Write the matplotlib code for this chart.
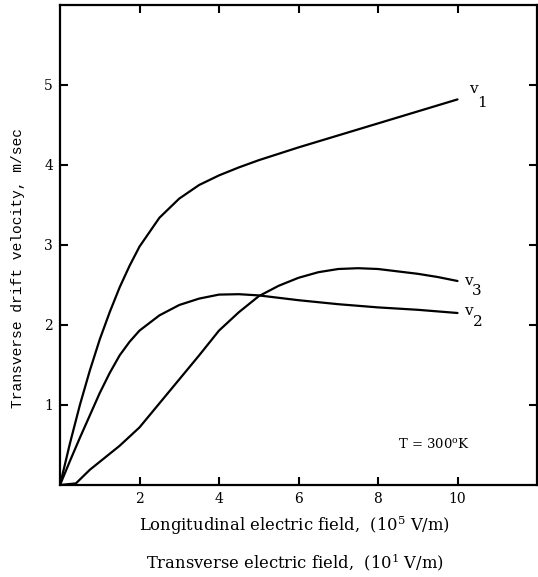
import matplotlib.pyplot as plt

# curve points (E in 10^5 V/m, v in m/sec)
v1_x = [0, 0.25, 0.5, 0.75, 1.0, 1.25, 1.5, 1.75, 2.0, 2.5, 3.0, 3.5,
        4.0, 4.5, 5.0, 6.0, 7.0, 8.0, 9.0, 10.0]
v1_y = [0, 0.52, 1.00, 1.43, 1.82, 2.16, 2.47, 2.74, 2.98, 3.34, 3.58, 3.75,
        3.87, 3.97, 4.06, 4.22, 4.37, 4.52, 4.67, 4.82]

v2_x = [0, 0.25, 0.5, 0.75, 1.0, 1.25, 1.5, 1.75, 2.0, 2.5, 3.0, 3.5,
        4.0, 4.5, 5.0, 6.0, 7.0, 8.0, 9.0, 10.0]
v2_y = [0, 0.30, 0.59, 0.87, 1.15, 1.40, 1.62, 1.79, 1.93, 2.12, 2.25, 2.33,
        2.38, 2.385, 2.37, 2.31, 2.26, 2.22, 2.19, 2.15]

v3_x = [0, 0.4, 0.75, 1.0, 1.5, 2.0, 2.5, 3.0, 3.5, 4.0, 4.5, 5.0, 5.5,
        6.0, 6.5, 7.0, 7.5, 8.0, 8.5, 9.0, 9.5, 10.0]
v3_y = [0, 0.02, 0.19, 0.29, 0.49, 0.72, 1.02, 1.32, 1.62, 1.93, 2.16, 2.36,
        2.49, 2.59, 2.66, 2.70, 2.71, 2.70, 2.67, 2.64, 2.60, 2.55]

x_ticks = [2, 4, 6, 8, 10]
y_ticks = [1, 2, 3, 4, 5]

serif = "DejaVu Serif"
mono = "Liberation Mono"

fig = plt.figure(figsize=(5.38, 5.77), dpi=100)
ax = fig.add_axes([60 / 538, 92 / 577, 477 / 538, 480 / 577])

for xs, ys in [(v1_x, v1_y), (v2_x, v2_y), (v3_x, v3_y)]:
    ax.plot(xs, ys, color="black", linewidth=1.6,
            solid_capstyle="round", solid_joinstyle="round")

ax.set_xlim(0, 12)
ax.set_ylim(0, 6)
ax.set_xticks(x_ticks)
ax.set_yticks(y_ticks)
ax.tick_params(direction="in", length=6, width=1.5, top=True, right=True,
               labelsize=10, pad=5)
for lab in ax.get_xticklabels() + ax.get_yticklabels():
    lab.set_fontfamily(serif)
for s in ax.spines.values():
    s.set_linewidth(1.6)

# curve labels
lab_kw = dict(fontsize=11, family=serif, ha="center", va="center")
ax.text(10.4, 4.95, "v", **lab_kw)
ax.text(10.62, 4.78, "1", **lab_kw)
ax.text(10.28, 2.55, "v", **lab_kw)
ax.text(10.48, 2.42, "3", **lab_kw)
ax.text(10.28, 2.18, "v", **lab_kw)
ax.text(10.52, 2.04, "2", **lab_kw)

ax.text(9.4, 0.51, "T = 300$\\mathregular{^o}$K", fontsize=9.5, family=serif,
        ha="center", va="center")

fig.text(18 / 538, 1 - 268 / 577, "Transverse drift velocity, m/sec",
         rotation=90, ha="center", va="center", fontsize=10.5, family=mono)
fig.text(295 / 538, 1 - 526 / 577,
         "Longitudinal electric field,  (10$\\mathregular{^5}$ V/m)",
         ha="center", va="center", fontsize=11.8, family=serif)
fig.text(295 / 538, 1 - 562 / 577,
         "Transverse electric field,  (10$\\mathregular{^1}$ V/m)",
         ha="center", va="center", fontsize=11.8, family=serif)

fig.savefig("out.png", dpi=100)
